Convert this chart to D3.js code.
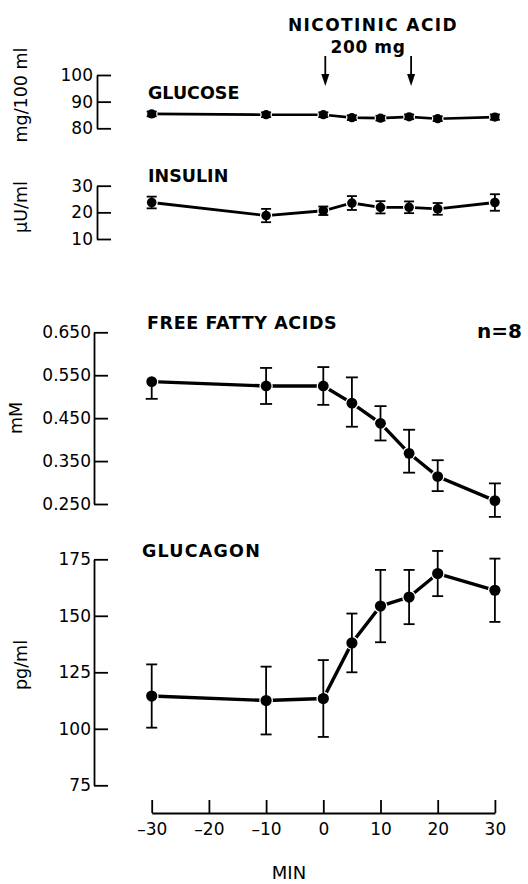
<!DOCTYPE html>
<html><head><meta charset="utf-8">
<script src="https://cdn.jsdelivr.net/npm/d3@7"></script>
<style>
body{margin:0;background:#fff}
svg text{font-family:"DejaVu Sans",sans-serif;fill:#000}
</style>
</head><body>
<svg id="chart" width="528" height="884"></svg>
<script>
// ---- data ----
const minutes = [-30, -10, 0, 5, 10, 15, 20, 30];
const glucose = [85.4, 85.1, 85.1, 84.0, 83.8, 84.3, 83.6, 84.2];
const glucoseErr = [0.9, 0.9, 0.9, 0.9, 0.9, 0.9, 0.9, 1.0];
const insulin = [23.7, 18.8, 20.6, 23.5, 21.9, 21.9, 21.3, 23.7];
const insulinErr = [2.2, 2.5, 1.6, 2.6, 2.3, 2.2, 2.2, 3.1];
const ffa = [0.535, 0.525, 0.525, 0.485, 0.438, 0.368, 0.314, 0.258];
const ffaErrUp = [0, 0.042, 0.044, 0.060, 0.040, 0.055, 0.038, 0.040];
const ffaErrDown = [0.040, 0.042, 0.044, 0.055, 0.040, 0.045, 0.034, 0.038];
const glucagon = [114.5, 112.5, 113.4, 138.0, 154.3, 158.3, 168.7, 161.3];
const glucagonErr = [14, 15, 17, 13, 16, 12, 10, 14];
const xTicks = [-30, -20, -10, 0, 10, 20, 30];
const xTickLabels = ["\u201330", "\u201320", "\u201310", "0", "10", "20", "30"];
const glucoseTicks = [80, 90, 100];
const insulinTicks = [10, 20, 30];
const ffaTicks = [0.250, 0.350, 0.450, 0.550, 0.650];
const glucagonTicks = [75, 100, 125, 150, 175];
const injectionMinutes = [0, 15];

const svg = d3.select("#chart");
const x = d3.scaleLinear().domain([-30, 30]).range([151.7, 494.9]);

const panels = [
  {name: "GLUCOSE", unit: "mg/100 ml", vals: glucose, up: glucoseErr, down: glucoseErr, ticks: glucoseTicks,
   fmt: d3.format("d"), domain: [80, 100], range: [128.3, 75], axisX: 97, r: 4.6, cap: 5, lw: 2.6,
   title: [148, 99, 0], unitPos: [21, 95], pad: 4},
  {name: "INSULIN", unit: "\u00b5U/ml", vals: insulin, up: insulinErr, down: insulinErr, ticks: insulinTicks,
   fmt: d3.format("d"), domain: [10, 30], range: [239, 185.7], axisX: 97, r: 4.8, cap: 5, lw: 2.8,
   title: [148, 182, 0], unitPos: [21, 207], pad: 4},
  {name: "FREE FATTY ACIDS", unit: "mM", vals: ffa, up: ffaErrUp, down: ffaErrDown, ticks: ffaTicks,
   fmt: d3.format(".3f"), domain: [0.25, 0.65], range: [504, 332.3], axisX: 94, r: 5.4, cap: 6, lw: 3.4,
   title: [147, 329, 0.6], unitPos: [16, 418], pad: 3},
  {name: "GLUCAGON", unit: "pg/ml", vals: glucagon, up: glucagonErr, down: glucagonErr, ticks: glucagonTicks,
   fmt: d3.format("d"), domain: [75, 175], range: [785.3, 559.3], axisX: 94, r: 5.6, cap: 5.5, lw: 3.4,
   title: [142, 557, 1.2], unitPos: [21, 665], pad: 3}
];

panels.forEach(p => {
  const y = d3.scaleLinear().domain(p.domain).range(p.range);
  const g = svg.append("g");

  // y axis (ticks inward to the right, labels on the left)
  const ax = g.append("g").attr("transform", `translate(${p.axisX},0)`)
    .call(d3.axisLeft(y).tickValues(p.ticks).tickFormat(p.fmt).tickSize(-14).tickSizeOuter(0).tickPadding(p.pad));
  ax.selectAll("path,line").attr("stroke", "#000").attr("stroke-width", 1.8);
  ax.selectAll("text").attr("font-size", 17).attr("fill", "#000").style("font-family", '"DejaVu Sans",sans-serif');

  // unit label, rotated
  g.append("text")
    .attr("transform", `translate(${p.unitPos[0]},${p.unitPos[1]}) rotate(-90)`)
    .attr("text-anchor", "middle").attr("dy", "0.36em")
    .attr("font-size", 17.5).text(p.unit);

  // panel title
  g.append("text").attr("x", p.title[0]).attr("y", p.title[1])
    .attr("font-size", 17.5).attr("font-weight", "bold").attr("letter-spacing", p.title[2])
    .text(p.name);

  const pts = minutes.map((m, i) => ({m, v: p.vals[i], up: p.up[i], down: p.down[i]}));

  // connecting line
  g.append("path").datum(pts)
    .attr("d", d3.line().x(d => x(d.m)).y(d => y(d.v)))
    .attr("fill", "none").attr("stroke", "#000").attr("stroke-width", p.lw);

  // points with a white halo (gap between line and marker)
  g.selectAll("circle.pt").data(pts).join("circle")
    .attr("cx", d => x(d.m)).attr("cy", d => y(d.v)).attr("r", p.r)
    .attr("fill", "#000").attr("stroke", "#fff").attr("stroke-width", 2.6);

  // error bars
  const eb = g.selectAll("g.eb").data(pts).join("g");
  eb.append("line")
    .attr("x1", d => x(d.m)).attr("x2", d => x(d.m))
    .attr("y1", d => y(d.v + d.up)).attr("y2", d => y(d.v - d.down))
    .attr("stroke", "#000").attr("stroke-width", 1.8);
  eb.filter(d => d.up > 0).append("line")
    .attr("x1", d => x(d.m) - p.cap).attr("x2", d => x(d.m) + p.cap)
    .attr("y1", d => y(d.v + d.up)).attr("y2", d => y(d.v + d.up))
    .attr("stroke", "#000").attr("stroke-width", 1.8);
  eb.filter(d => d.down > 0).append("line")
    .attr("x1", d => x(d.m) - p.cap).attr("x2", d => x(d.m) + p.cap)
    .attr("y1", d => y(d.v - d.down)).attr("y2", d => y(d.v - d.down))
    .attr("stroke", "#000").attr("stroke-width", 1.8);
  // re-draw dot body over the halo-cut error bars
  g.selectAll("circle.dot").data(pts).join("circle")
    .attr("cx", d => x(d.m)).attr("cy", d => y(d.v)).attr("r", p.r).attr("fill", "#000");
});

// x axis (ticks pointing up)
const xa = svg.append("g").attr("transform", "translate(0,813)")
  .call(d3.axisBottom(x).tickValues(xTicks).tickFormat((d, i) => xTickLabels[i]).tickSize(-13).tickSizeOuter(0).tickPadding(10));
xa.selectAll("path,line").attr("stroke", "#000").attr("stroke-width", 1.8);
xa.selectAll("text").attr("font-size", 17).attr("fill", "#000").style("font-family", '"DejaVu Sans",sans-serif');

svg.append("text").attr("x", 289).attr("y", 879).attr("text-anchor", "middle")
  .attr("font-size", 18).text("MIN");

// annotation
svg.append("text").attr("x", 373).attr("y", 31).attr("text-anchor", "middle")
  .attr("font-size", 17).attr("font-weight", "bold").attr("letter-spacing", 1.4).text("NICOTINIC ACID");
svg.append("text").attr("x", 368).attr("y", 53).attr("text-anchor", "middle")
  .attr("font-size", 17).attr("font-weight", "bold").attr("letter-spacing", 0.6).text("200 mg");

injectionMinutes.forEach(m => {
  const ax = x(m) + 2;
  svg.append("line").attr("x1", ax).attr("x2", ax).attr("y1", 56).attr("y2", 80)
    .attr("stroke", "#000").attr("stroke-width", 1.8);
  svg.append("path").attr("d", `M${ax - 4},74 L${ax + 4},74 L${ax},86 Z`).attr("fill", "#000");
});

// n
svg.append("text").attr("x", 522).attr("y", 338).attr("text-anchor", "end")
  .attr("font-size", 20).attr("font-weight", "bold").text("n=8");
</script>
</body></html>
